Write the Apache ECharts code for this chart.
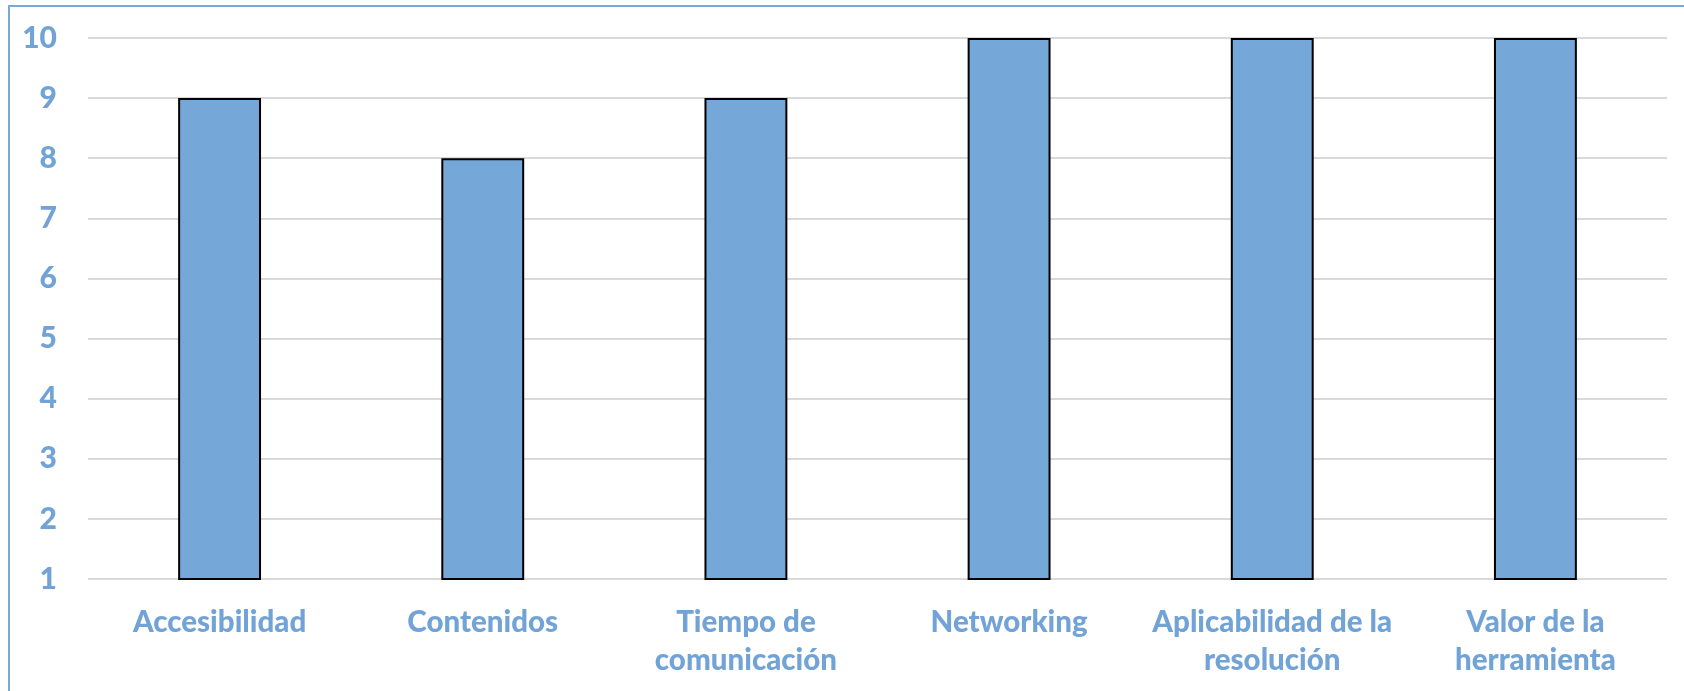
<!DOCTYPE html>
<html>
<head>
<meta charset="utf-8">
<script src="https://cdn.jsdelivr.net/npm/echarts@6/dist/echarts.min.js"></script>
<style>
html,body{margin:0;padding:0;background:#fff;}
#frame{position:absolute;left:8px;top:5px;width:1700px;height:700px;border-left:2px solid #7BA7DA;border-top:2px solid #7BA7DA;}
#chart{position:absolute;left:0;top:0;width:1684px;height:691px;}
</style>
</head>
<body>
<div id="frame"></div>
<div id="chart"></div>
<script>
const categories = ['Accesibilidad', 'Contenidos', 'Tiempo de\ncomunicación', 'Networking', 'Aplicabilidad de la\nresolución', 'Valor de la\nherramienta'];
const values = [9, 8, 9, 10, 10, 10];
const yMin = 1, yMax = 10, yInterval = 1;

const textColor = '#72A3D7';
const chart = echarts.init(document.getElementById('chart'), null, {renderer: 'canvas'});
chart.setOption({
  animation: false,
  grid: {left: 88, right: 17, top: 38, bottom: 112, containLabel: false},
  xAxis: {
    type: 'category',
    data: categories,
    axisLine: {show: false},
    axisTick: {show: false},
    axisLabel: {
      interval: 0,
      margin: 24,
      color: textColor,
      fontFamily: 'Lato',
      fontWeight: 900,
      fontSize: 29.5,
      lineHeight: 38
    }
  },
  yAxis: {
    type: 'value',
    min: yMin, max: yMax, interval: yInterval,
    axisLine: {show: false},
    axisTick: {show: false},
    splitLine: {lineStyle: {color: '#D9D9D9', width: 2}},
    axisLabel: {
      margin: 31,
      color: textColor,
      fontFamily: 'Lato',
      fontWeight: 900,
      fontSize: 30
    }
  },
  series: [{
    type: 'bar',
    data: values,
    barWidth: '31.5%',
    itemStyle: {color: '#75A7D8', borderColor: '#000', borderWidth: 2}
  }]
});
</script>
</body>
</html>
